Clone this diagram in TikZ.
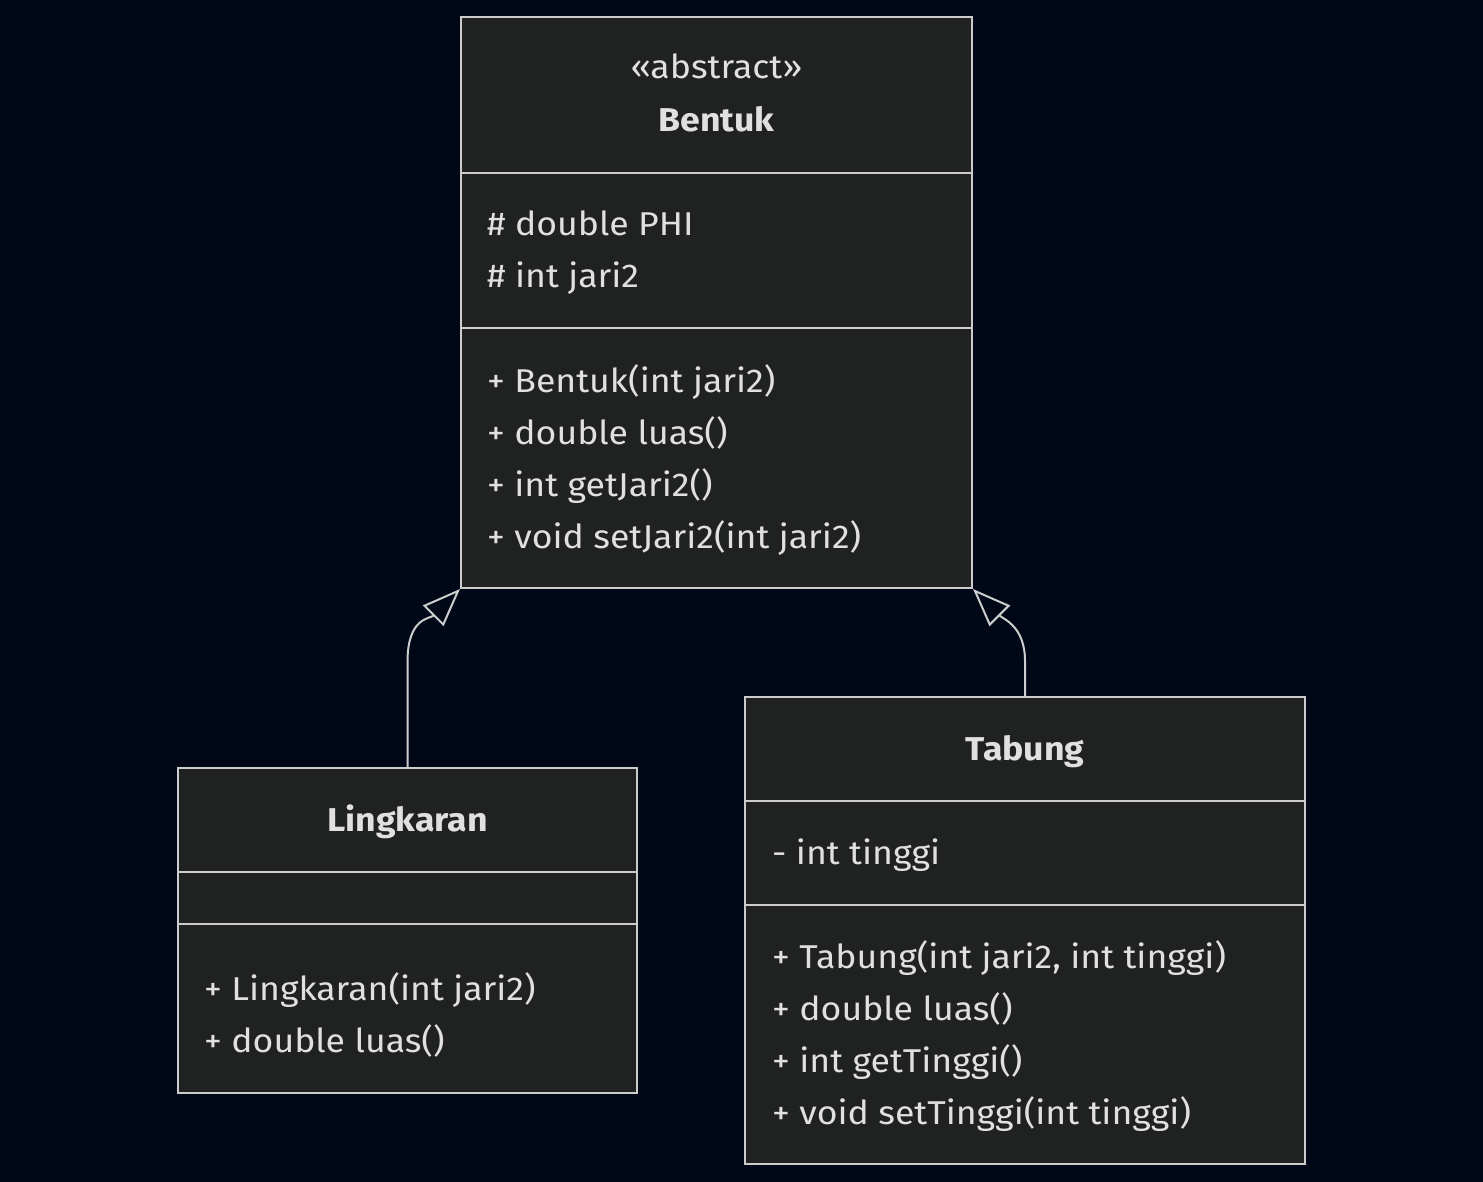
\documentclass[tikz,border=0pt]{standalone}
\usepackage{fontspec}
\setmainfont{Fira Sans}[FakeStretch=1.08]
\usetikzlibrary{arrows.meta}

\definecolor{bgcol}{HTML}{000818}
\definecolor{boxcol}{HTML}{202121}
\definecolor{linecol}{HTML}{CCCCCC}
\definecolor{textcol}{HTML}{E0E0E0}

\tikzset{
  classbox/.style={draw=linecol, fill=boxcol, line width=2pt, inner sep=0pt},
  sepline/.style={draw=linecol, line width=2pt},
  member/.style={anchor=base west, text=textcol, inner sep=0pt,
    font=\fontsize{33}{40}\selectfont},
  classname/.style={anchor=base, text=textcol, inner sep=0pt,
    font=\fontsize{33}{40}\selectfont\bfseries},
  stereo/.style={anchor=base, text=textcol, inner sep=0pt,
    font=\fontsize{33}{40}\selectfont},
  inherit/.style={draw=linecol, line width=2pt,
    -{Triangle[open, length=38pt, width=29pt, fill=bgcol]}}
}

\begin{document}
\begin{tikzpicture}[x=1pt, y=-1pt]
    \fill[bgcol] (0,0) rectangle (1483,1182);
    \useasboundingbox (0,0) rectangle (1483,1182);

    % Bentuk
    \node[classbox, minimum width=511pt, minimum height=571pt]
        (bentuk) at (716.5,302.5) {};
    \draw[sepline] (bentuk.west |- 0,173) -- (bentuk.east |- 0,173);
    \draw[sepline] (bentuk.west |- 0,328) -- (bentuk.east |- 0,328);
    \node[stereo] (bentukstereo) at (716.5,79) {«abstract»};
    \node[classname] (bentukname) at (716.5,132) {Bentuk};
    \node[member] (phi) at (487,236) {\# double PHI};
    \node[member] (jari) at (487,288) {\# int jari2};
    \node[member] (bentukctor) at (487,392) {+ Bentuk(int jari2)};
    \node[member] (bentukluas) at (487,444) {+ double luas()};
    \node[member] (getjari) at (487,496) {+ int getJari2()};
    \node[member] (setjari) at (487,548) {+ void setJari2(int jari2)};

    % Lingkaran
    \node[classbox, minimum width=459pt, minimum height=325pt]
        (lingkaran) at (407.5,930.5) {};
    \draw[sepline] (lingkaran.west |- 0,872) -- (lingkaran.east |- 0,872);
    \draw[sepline] (lingkaran.west |- 0,924) -- (lingkaran.east |- 0,924);
    \node[classname] (lingkaranname) at (407.5,831) {Lingkaran};
    \node[member] (lingkaranctor) at (204,1000) {+ Lingkaran(int jari2)};
    \node[member] (lingkaranluas) at (204,1052) {+ double luas()};

    % Tabung
    \node[classbox, minimum width=560pt, minimum height=467pt]
        (tabung) at (1025,930.5) {};
    \draw[sepline] (tabung.west |- 0,801) -- (tabung.east |- 0,801);
    \draw[sepline] (tabung.west |- 0,905) -- (tabung.east |- 0,905);
    \node[classname] (tabungname) at (1025,760) {Tabung};
    \node[member] (tinggi) at (772,864) {- int tinggi};
    \node[member] (tabungctor) at (772,968) {+ Tabung(int jari2, int tinggi)};
    \node[member] (tabungluas) at (772,1020) {+ double luas()};
    \node[member] (gettinggi) at (772,1072) {+ int getTinggi()};
    \node[member] (settinggi) at (772,1124) {+ void setTinggi(int tinggi)};

    % inheritance
    \draw[inherit] (lingkaran.north) -- ++(0,-105)
        .. controls +(0,-45) and +(-30,30) .. (bentuk.south west);
    \draw[inherit] (tabung.north) -- ++(0,-35)
        .. controls +(0,-35) and +(30,30) .. (bentuk.south east);
\end{tikzpicture}
\end{document}
